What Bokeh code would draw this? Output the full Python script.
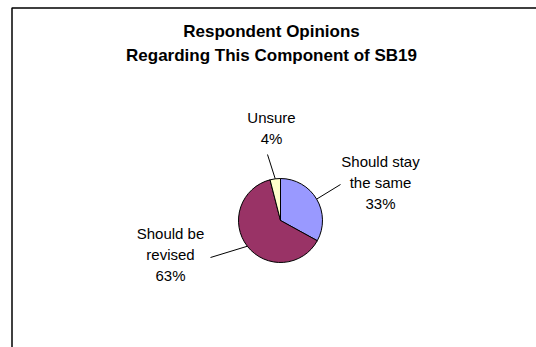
import math
from bokeh.plotting import figure
from bokeh.models import Range1d
from bokeh.core.properties import value
from bokeh.embed import file_html
from bokeh.resources import INLINE

# ---- data ----
categories = ["Should stay the same", "Should be revised", "Unsure"]
values = [33, 63, 4]
label_lines = [["Should stay", "the same"], ["Should be", "revised"], ["Unsure"]]
colors = ["#9999FF", "#993366", "#FFFFCC"]
title_lines = ["Respondent Opinions", "Regarding This Component of SB19"]

# ---- layout (pixel coords, y downward) ----
W, H = 536, 347
cx, cy, R = 280, 220, 42
label_pos = [(380, 161), (170, 233), (271, 117)]      # center x, first line y
leader_end = [(340, 184), (210, 257), (267, 154)]
line_gap = 21
FONT = "Liberation Sans"

def Y(y):
    return H - y

p = figure(width=W, height=H, output_backend="svg", toolbar_location=None,
           x_range=Range1d(0, W), y_range=Range1d(0, H), min_border=0)
p.axis.visible = False
p.grid.visible = False
p.outline_line_color = None
p.background_fill_color = "white"
p.border_fill_color = "white"

# frame border (left & top visible)
p.line(x=[11.5, 11.5, W + 5], y=[-5, Y(7.5), Y(7.5)], line_color="black", line_width=1.5)

# title
for i, t in enumerate(title_lines):
    p.text(x=[271], y=[Y(31 + 24 * i)], text=[t], text_align="center", text_baseline="middle",
           text_font=value(FONT), text_font_size="17px", text_font_style="bold", text_color="black")

# pie
total = float(sum(values))
cum = 0.0
starts, ends, mids = [], [], []
for v in values:
    a0 = math.pi / 2 - 2 * math.pi * cum / total
    a1 = math.pi / 2 - 2 * math.pi * (cum + v) / total
    starts.append(a0)
    ends.append(a1)
    mids.append((a0 + a1) / 2)
    cum += v

p.wedge(x=[cx] * len(values), y=[Y(cy)] * len(values), radius=R,
        start_angle=starts, end_angle=ends, direction="clock",
        fill_color=colors, line_color="black", line_width=1)

# leader lines and labels
for i, v in enumerate(values):
    ex = cx + R * math.cos(mids[i])
    ey = Y(cy) + R * math.sin(mids[i])
    lx, ly = leader_end[i]
    p.line(x=[ex, lx], y=[ey, Y(ly)], line_color="black", line_width=1)
    lines = label_lines[i] + ["%d%%" % round(100 * v / total)]
    px, py = label_pos[i]
    for j, s in enumerate(lines):
        p.text(x=[px], y=[Y(py + line_gap * j)], text=[s], text_align="center", text_baseline="middle",
               text_font=value(FONT), text_font_size="15px", text_color="black")

open("out.html", "w").write(file_html(p, INLINE))
